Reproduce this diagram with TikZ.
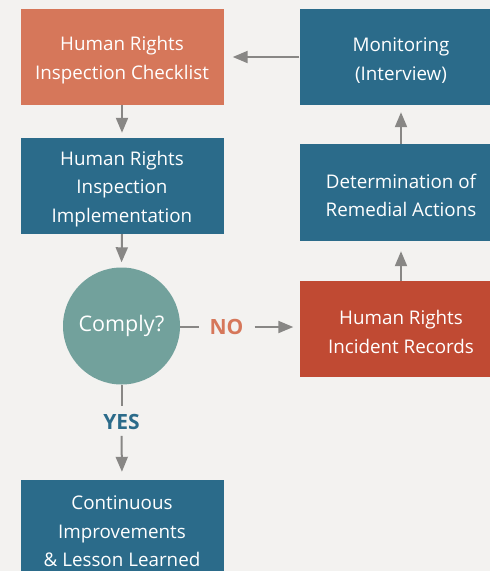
\documentclass[tikz,border=0pt]{standalone}
\usepackage{fontspec}
\setmainfont{Open Sans}
\usetikzlibrary{arrows.meta}
\definecolor{bgc}{HTML}{F3F2F0}
\definecolor{orng}{HTML}{D6775A}
\definecolor{blu}{HTML}{2B6B8A}
\definecolor{teal}{HTML}{72A19C}
\definecolor{redc}{HTML}{C04A33}
\definecolor{arr}{HTML}{888785}
\newcommand\tpad{\rule{0pt}{20.5pt}}
\tikzset{
  box/.style={rectangle, minimum width=203pt, minimum height=96pt, inner sep=0pt, text=white, align=center, font=\fontsize{18.8}{28.5}\selectfont},
  conn/.style={draw=arr, line width=2pt, -{Triangle[length=15pt,width=12pt]}},
  plain/.style={draw=arr, line width=2pt},
  lbl/.style={font=\fontsize{21}{24}\selectfont\bfseries, inner sep=0pt}
}
\begin{document}
\begin{tikzpicture}[x=1pt,y=-1pt]
\useasboundingbox (0,0) rectangle (490,571);
\fill[bgc] (0,0) rectangle (490,571);
\clip (0,0) rectangle (490,571);
\node[box, fill=orng] (chk) at (122,57) {\tpad Human Rights\\Inspection Checklist};
\node[box, fill=blu] (impl) at (122,186) {\tpad Human Rights\\Inspection\\Implementation};
\node[circle, fill=teal, minimum size=117pt, inner sep=0pt, text=white, font=\fontsize{21.5}{24}\selectfont] (comply) at (121.5,326) {Comply?};
\node[box, fill=blu] (cont) at (122,528) {\tpad Continuous\\Improvements\\\& Lesson Learned};
\node[box, fill=blu] (mon) at (401,57) {\tpad Monitoring\\(Interview)};
\node[box, fill=blu, minimum height=97pt] (det) at (401,192.5) {\tpad Determination of\\Remedial Actions};
\node[box, fill=redc] (inc) at (401,329) {\tpad Human Rights\\Incident Records};
\node[lbl, text=orng] (no) at (226.5,327) {NO};
\node[lbl, text=blu] (yes) at (121.5,422) {YES};
\draw[conn, shorten >=9pt] (mon.west) -- (chk.east);
\draw[conn, shorten >=5pt] (chk.south) -- (impl.north);
\draw[conn, shorten >=5pt] (impl.south) -- (comply.north);
\draw[plain, shorten >=10pt] (comply.east |- no.west) -- (no.west);
\draw[conn, shorten <=11pt, shorten >=6pt] (no.east) -- (inc.west |- no.east);
\draw[conn, shorten >=10pt] (inc.north) -- (det.south);
\draw[conn, shorten >=7pt] (det.north) -- (mon.south);
\draw[plain, shorten >=8pt] (comply.south) -- (yes.north);
\draw[conn, shorten <=6pt, shorten >=8pt] (yes.south) -- (cont.north);
\end{tikzpicture}
\end{document}
